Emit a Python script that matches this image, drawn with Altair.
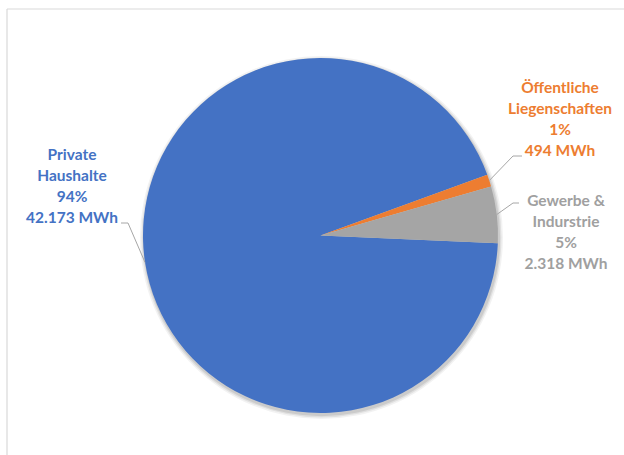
import math
import altair as alt
import pandas as pd

# ---- data ----
categories = ["Private Haushalte", "Öffentliche Liegenschaften", "Gewerbe & Indurstrie"]
values = [42173, 494, 2318]
name_lines = ["Private\nHaushalte", "Öffentliche\nLiegenschaften", "Gewerbe &\nIndurstrie"]
pct_labels = ["94%", "1%", "5%"]
mwh_labels = ["42.173 MWh", "494 MWh", "2.318 MWh"]
colors = ["#4472C4", "#ED7D31", "#A5A5A5"]
text_colors = ["#4472C4", "#ED7D31", "#A0A0A0"]

# ---- layout (pixels) ----
W, H = 624, 455
CX, CY, R = 320.5, 235.5, 177.5
START_DEG = 92.5
# position of first text line of each label
label_pos = [(72, 155), (560, 88), (566, 201)]
elbow = [((121, 223), (128, 223)), ((522, 156), (513, 156)), ((519, 203), (513, 203))]

total = sum(values)
start = math.radians(START_DEG)

pie_df = pd.DataFrame({"cat": categories, "value": values, "order": list(range(len(values)))})

# leader lines to slice mid-angles
rows = []
acc = 0.0
for i, v in enumerate(values):
    mid = start + 2 * math.pi * (acc + v / 2) / total
    acc += v
    ex = CX + R * math.sin(mid)
    ey = CY - R * math.cos(mid)
    pts = [elbow[i][0], elbow[i][1], (ex, ey)]
    for j, (px, py) in enumerate(pts):
        rows.append({"cat": categories[i], "k": j, "px": px, "py": py})
line_df = pd.DataFrame(rows)

lab_df = pd.DataFrame({
    "cat": categories,
    "txt": [f"{n}\n{p}\n{m}" for n, p, m in zip(name_lines, pct_labels, mwh_labels)],
    "px": [p[0] for p in label_pos],
    "py": [p[1] for p in label_pos],
})

xs = alt.Scale(domain=[0, W], nice=False, zero=False)
ys = alt.Scale(domain=[0, H], nice=False, zero=False, reverse=True)

frame_df = pd.DataFrame({"x1": [7, 7], "y1": [9, 9], "x2": [W, 7], "y2": [9, H]})
frame = alt.Chart(frame_df).mark_rule(color="#D9D9D9", strokeWidth=1.2).encode(
    x=alt.X("x1:Q", scale=xs, axis=None),
    y=alt.Y("y1:Q", scale=ys, axis=None),
    x2="x2:Q",
    y2="y2:Q",
)

shadow_layers = []
for k, (dr, op) in enumerate([(4, 0.05), (2.5, 0.07), (1.2, 0.09)]):
    shadow_layers.append(
        alt.Chart(pd.DataFrame({"a": [1]})).mark_arc(
            theta=0, theta2=6.2832, radius=R + dr, color="#000000", opacity=op
        ).encode(x=alt.value(CX + 1), y=alt.value(CY + 2))
    )

pie = alt.Chart(pie_df).mark_arc(radius=R).encode(
    x=alt.value(CX),
    y=alt.value(CY),
    theta=alt.Theta("value:Q", stack=True,
                    scale=alt.Scale(type="linear", range=[start, start + 2 * math.pi])),
    order=alt.Order("order:Q"),
    color=alt.Color("cat:N", scale=alt.Scale(domain=categories, range=colors), legend=None),
)

leaders = alt.Chart(line_df).mark_line(color="#A6A6A6", strokeWidth=1).encode(
    x=alt.X("px:Q", scale=xs, axis=None),
    y=alt.Y("py:Q", scale=ys, axis=None),
    detail="cat:N",
    order="k:Q",
)

labels = alt.Chart(lab_df).mark_text(
    lineBreak="\n", lineHeight=21, font="Lato", fontSize=15.5, fontWeight="bold",
    align="center", baseline="middle",
).encode(
    x=alt.X("px:Q", scale=xs, axis=None),
    y=alt.Y("py:Q", scale=ys, axis=None),
    text="txt:N",
    color=alt.Color("cat:N", scale=alt.Scale(domain=categories, range=text_colors), legend=None),
)

chart = alt.layer(frame, *shadow_layers, pie, leaders, labels).resolve_scale(
    color="independent"
).properties(
    width=W, height=H, padding=0, autosize=alt.AutoSizeParams(type="none"),
    background="#FFFFFF",
).configure_view(stroke=None)

chart.save("out.html", embed_options={"renderer": "svg", "actions": False})
